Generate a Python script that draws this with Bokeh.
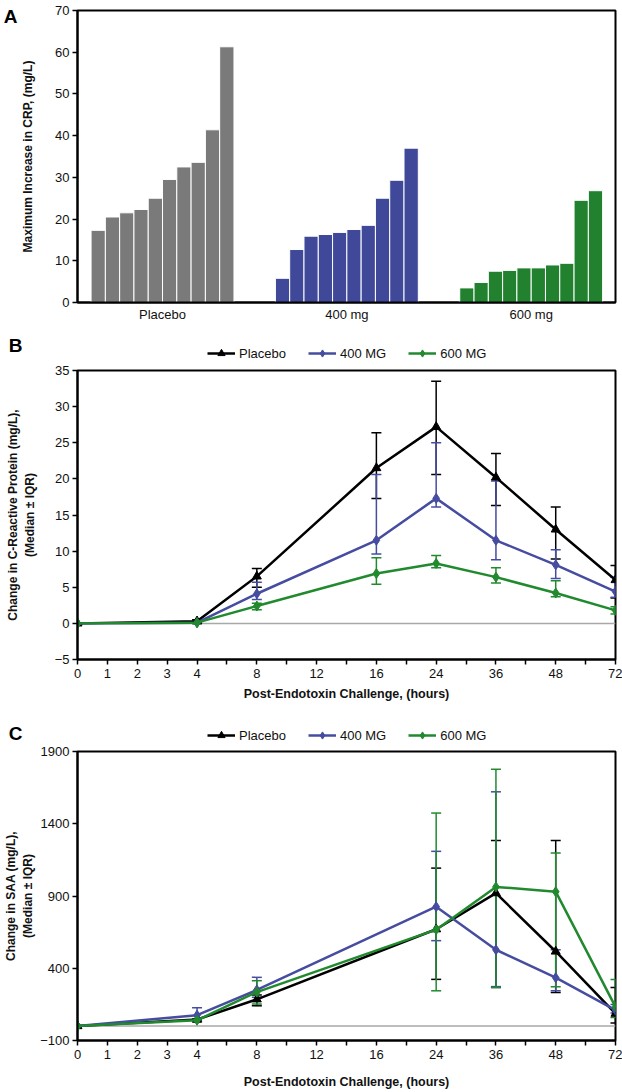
from bokeh.plotting import figure
from bokeh.models import (Range1d, FixedTicker, Whisker, TeeHead, LinearAxis,
                          ColumnDataSource, Legend, LegendItem, Span)
from bokeh.layouts import column
from bokeh.embed import file_html
from bokeh.resources import INLINE

FONT = "Liberation Sans"

# ---------------- Panel A data ----------------
groups = ["Placebo", "400 mg", "600 mg"]
placebo_bars = [17.3, 20.5, 21.5, 22.3, 25.0, 29.5, 32.5, 33.6, 41.4, 61.3]
mg400_bars = [5.8, 12.7, 15.9, 16.3, 16.8, 17.5, 18.5, 25.0, 29.3, 37.0]
mg600_bars = [3.5, 4.8, 7.5, 7.7, 8.3, 8.3, 9.0, 9.4, 24.5, 26.8]
bar_colors = ["#7a7a7a", "#3f4899", "#21812e"]
crp_max_yticks = [0, 10, 20, 30, 40, 50, 60, 70]

# ---------------- shared time axis ----------------
time_tick_labels = ["0", "1", "2", "3", "4", "", "8", "", "12", "", "16", "",
                    "24", "", "36", "", "48", "", "72"]

series_names = ["Placebo", "400 MG", "600 MG"]
series_colors = ["#000000", "#464c9f", "#228a2e"]
series_markers = ["triangle", "diamond", "diamond"]

# ---------------- Panel B data (CRP) ----------------
crp_hours = [0, 4, 8, 16, 24, 36, 48, 72]
crp_placebo = [0, 0.3, 6.5, 21.5, 27.2, 20.2, 13.0, 6.0]
crp_placebo_hi = [0, 0.5, 7.6, 26.4, 33.5, 23.5, 16.1, 8.0]
crp_placebo_lo = [0, 0.1, 5.0, 17.3, 20.6, 16.3, 8.9, 3.5]
crp_400 = [0, 0.1, 4.1, 11.5, 17.3, 11.5, 8.1, 4.4]
crp_400_hi = [0, 0.3, 5.7, 20.6, 25.0, 19.7, 10.2, 6.4]
crp_400_lo = [0, 0.0, 3.3, 9.6, 16.1, 8.8, 6.2, 3.6]
crp_600 = [0, 0.1, 2.4, 6.9, 8.3, 6.4, 4.2, 1.8]
crp_600_hi = [0, 0.2, 2.8, 9.1, 9.4, 7.7, 5.9, 2.3]
crp_600_lo = [0, 0.0, 1.9, 5.4, 7.7, 5.6, 3.7, 1.3]
crp_yticks = [-5, 0, 5, 10, 15, 20, 25, 30, 35]

# ---------------- Panel C data (SAA) ----------------
saa_hours = [0, 4, 8, 24, 36, 48, 72]
saa_placebo = [0, 45, 185, 670, 920, 516, 86]
saa_placebo_hi = [0, 50, 215, 1093, 1284, 1284, 267]
saa_placebo_lo = [0, 35, 140, 323, 267, 233, 21]
saa_400 = [0, 75, 250, 826, 528, 335, 110]
saa_400_hi = [0, 126, 337, 1209, 1621, 528, 150]
saa_400_lo = [0, 50, 200, 591, 273, 245, 90]
saa_600 = [0, 40, 235, 667, 963, 930, 133]
saa_600_hi = [0, 50, 314, 1474, 1777, 1198, 323]
saa_600_lo = [0, 30, 152, 244, 267, 272, 60]
saa_yticks = [-100, 400, 900, 1400, 1900]

W = 622
GROUP_GAP = 2.9   # gap between bar groups, in bar widths
END_PAD = 0.95


def style_yaxis(ax, label, standoff):
    ax.axis_label = label
    ax.axis_label_text_font = FONT
    ax.axis_label_text_font_size = "12px"
    ax.axis_label_text_font_style = "bold"
    ax.axis_label_text_color = "#111111"
    ax.axis_label_standoff = standoff
    ax.major_label_text_font = FONT
    ax.major_label_text_font_size = "13px"
    ax.major_label_text_color = "#111111"
    ax.major_tick_out = 5
    ax.major_tick_in = 0
    ax.major_tick_line_width = 1.5
    ax.minor_tick_line_color = None
    ax.axis_line_width = 2
    ax.axis_line_color = "black"
    ax.major_label_standoff = 3


def letter_axis(letter, at, standoff):
    """An outer, line-less axis whose only label is the panel letter."""
    return LinearAxis(ticker=FixedTicker(ticks=[at]),
                      major_label_overrides={at: letter},
                      axis_line_color=None, major_tick_line_color=None,
                      minor_tick_line_color=None, major_tick_out=0, major_tick_in=0,
                      major_label_standoff=standoff, major_label_text_font=FONT,
                      major_label_text_font_size="19px",
                      major_label_text_font_style="bold",
                      major_label_text_color="black")


# ---------------- Panel A ----------------
all_bars = [placebo_bars, mg400_bars, mg600_bars]
n_per = len(placebo_bars)
xsA, topsA, colsA = [], [], []
for gi, vals in enumerate(all_bars):
    for i, v in enumerate(vals):
        xsA.append(gi * (n_per + GROUP_GAP) + i + 0.5)
        topsA.append(v)
        colsA.append(bar_colors[gi])
srcA = ColumnDataSource(dict(x=xsA, top=topsA, color=colsA))
x_end = len(groups) * n_per + (len(groups) - 1) * GROUP_GAP
pA = figure(width=W, height=333,
            x_range=Range1d(-END_PAD, x_end + END_PAD - 0.05),
            y_range=Range1d(0, 70), output_backend="svg", toolbar_location=None,
            min_border_left=73, min_border_right=7, min_border_top=10, min_border_bottom=31)
pA.vbar(x="x", top="top", width=1.0, fill_color="color", line_color="white",
        line_width=1, source=srcA)
pA.xgrid.visible = False
pA.ygrid.visible = False
pA.outline_line_color = "black"
pA.outline_line_width = 2
xa = pA.xaxis[0]
group_centers = [gi * (n_per + GROUP_GAP) + n_per / 2 for gi in range(len(groups))]
xa.ticker = FixedTicker(ticks=group_centers)
xa.major_label_overrides = {c: g for c, g in zip(group_centers, groups)}
xa.major_tick_line_color = None
xa.minor_tick_line_color = None
xa.major_tick_out = 0
xa.major_tick_in = 0
xa.major_label_standoff = 4
xa.major_label_text_font = FONT
xa.major_label_text_font_size = "13px"
xa.major_label_text_color = "#111111"
xa.axis_line_width = 2
xa.axis_line_color = "black"
pA.yaxis.ticker = FixedTicker(ticks=crp_max_yticks)
style_yaxis(pA.yaxis[0], "Maximum Increase in CRP, (mg/L)", 17)
pA.add_layout(letter_axis("A", 68.5, 1), "left")


# ---------------- line panels ----------------
def make_sources(hours, ys, his, los):
    xs = [time_tick_labels.index(str(h)) for h in hours]
    return [ColumnDataSource(dict(x=xs, y=y, upper=hi, lower=lo))
            for y, hi, lo in zip(ys, his, los)]


def line_panel(height, top, bottom, sources, yticks, yrange, ylabel,
               ylabel_standoff, xlabel_standoff):
    p = figure(width=W, height=height, x_range=Range1d(0, len(time_tick_labels) - 1),
               y_range=Range1d(*yrange), output_backend="svg", toolbar_location=None,
               min_border_left=73, min_border_right=7, min_border_top=top,
               min_border_bottom=bottom)
    p.xgrid.visible = False
    p.ygrid.visible = False
    p.outline_line_color = "black"
    p.outline_line_width = 2
    p.add_layout(Span(location=0, dimension="width", line_color="#a8a8a8",
                      line_width=1.5, level="underlay"))
    for color, marker, src in zip(series_colors, series_markers, sources):
        p.add_layout(Whisker(source=src, base="x", upper="upper", lower="lower",
                             line_color=color, line_width=1.5,
                             upper_head=TeeHead(size=10, line_color=color, line_width=1.5),
                             lower_head=TeeHead(size=10, line_color=color, line_width=1.5)))
        p.line("x", "y", source=src, line_color=color, line_width=2.5)
        p.scatter("x", "y", source=src, marker=marker,
                  size=9 if marker == "triangle" else 10,
                  fill_color=color, line_color=color)
    xa = p.xaxis[0]
    xa.ticker = FixedTicker(ticks=list(range(len(time_tick_labels))))
    xa.major_label_overrides = {i: lab for i, lab in enumerate(time_tick_labels)}
    xa.major_label_text_font = FONT
    xa.major_label_text_font_size = "13px"
    xa.major_label_text_color = "#111111"
    xa.major_label_standoff = 4
    xa.major_tick_out = 5
    xa.major_tick_in = 0
    xa.major_tick_line_width = 1.5
    xa.minor_tick_line_color = None
    xa.axis_line_width = 2
    xa.axis_line_color = "black"
    xa.axis_label = "Post-Endotoxin Challenge, (hours)"
    xa.axis_label_text_font = FONT
    xa.axis_label_text_font_size = "12.5px"
    xa.axis_label_text_font_style = "bold"
    xa.axis_label_text_color = "#111111"
    xa.axis_label_standoff = xlabel_standoff
    p.yaxis.ticker = FixedTicker(ticks=yticks)
    style_yaxis(p.yaxis[0], ylabel, ylabel_standoff)
    return p


# ---------------- header strips (letter + legend) above B and C ----------------
def header_strip(height, letter, letter_y, legend_y, sources):
    s = figure(width=W, height=height, x_range=Range1d(0, 1), y_range=Range1d(0, height),
               x_axis_type=None, y_axis_type=None, output_backend="svg",
               toolbar_location=None, min_border_left=73, min_border_right=7,
               min_border_top=0, min_border_bottom=0, outline_line_color=None)
    s.xgrid.visible = False
    s.ygrid.visible = False
    s.add_layout(letter_axis(letter, letter_y, 55), "left")
    items = []
    for name, color, marker, src in zip(series_names, series_colors, series_markers, sources):
        lr = s.line("x", "y", source=src, line_color=color, line_width=2.5, visible=False)
        sr = s.scatter("x", "y", source=src, marker=marker, fill_color=color,
                       line_color=color, visible=False)
        items.append(LegendItem(label=name, renderers=[lr, sr]))
    leg = Legend(items=items, orientation="horizontal", location=(130, legend_y),
                 border_line_color=None, background_fill_alpha=0,
                 label_text_font=FONT, label_text_font_size="13px",
                 label_text_color="#111111", glyph_width=28, glyph_height=18,
                 label_height=18, spacing=22, padding=0, margin=0, label_standoff=4)
    s.add_layout(leg)
    return s


srcB = make_sources(crp_hours, [crp_placebo, crp_400, crp_600],
                    [crp_placebo_hi, crp_400_hi, crp_600_hi],
                    [crp_placebo_lo, crp_400_lo, crp_600_lo])
srcC = make_sources(saa_hours, [saa_placebo, saa_400, saa_600],
                    [saa_placebo_hi, saa_400_hi, saa_600_hi],
                    [saa_placebo_lo, saa_400_lo, saa_600_lo])

hB = header_strip(30, "B", 18, 1, srcB)
pB = line_panel(348, 7, 52, srcB, crp_yticks, (-5, 35),
                "Change in C-Reactive Protein (mg/L),\n(Median \u00b1 IQR)", 15, 6)
hC = header_strip(33, "C", 9.5, 0, srcC)
pC = line_panel(348, 7, 52, srcC, saa_yticks, (-100, 1900),
                "Change in SAA (mg/L),\n(Median \u00b1 IQR)", 2, 13)

layout = column(pA, hB, pB, hC, pC, spacing=0)
open("out.html", "w").write(file_html(layout, INLINE))
